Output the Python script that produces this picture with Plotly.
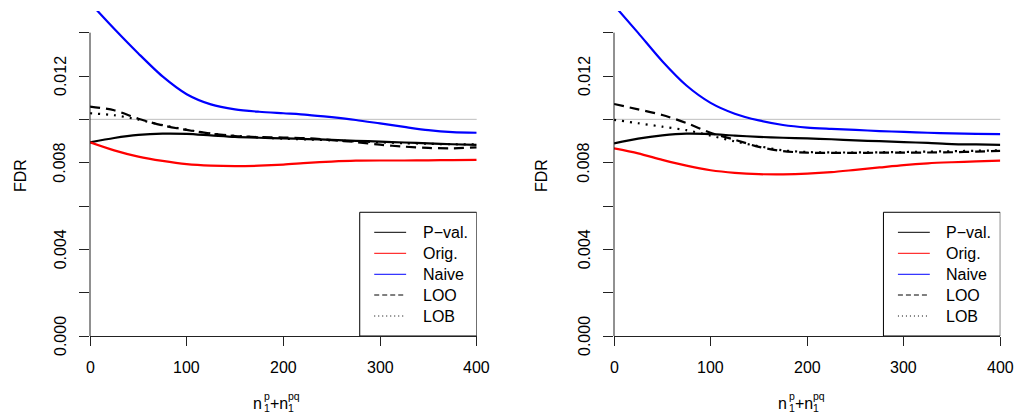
import plotly.graph_objects as go

# Sample sizes n1^p + n1^pq
n_total = [0, 25, 50, 75, 100, 125, 150, 175, 200, 225, 250, 275, 300, 325, 350, 375, 400]

# Left panel FDR estimates
pval_left = [0.00894, 0.00914, 0.00928, 0.00934, 0.00933, 0.00926, 0.00919, 0.00915, 0.00912,
             0.00909, 0.00905, 0.00901, 0.00897, 0.00893, 0.00889, 0.00885, 0.00882]
orig_left = [0.00894, 0.00857, 0.00828, 0.00808, 0.00793, 0.00786, 0.00784, 0.00786, 0.00791,
             0.00799, 0.00805, 0.00809, 0.00810, 0.00810, 0.00811, 0.00812, 0.00813]
naive_left = [0.01538, 0.01418, 0.01304, 0.01198, 0.01116, 0.01069, 0.01046, 0.01035, 0.01028,
              0.01021, 0.01010, 0.00997, 0.00981, 0.00965, 0.00950, 0.00941, 0.00938]
loo_left = [0.01059, 0.01042, 0.01003, 0.00972, 0.00951, 0.00934, 0.00923, 0.00918, 0.00916,
            0.00913, 0.00904, 0.00895, 0.00883, 0.00874, 0.00868, 0.00866, 0.00871]
lob_left = [0.01028, 0.01019, 0.00999, 0.00973, 0.00952, 0.00935, 0.00924, 0.00916, 0.00911,
            0.00907, 0.00903, 0.00899, 0.00894, 0.00890, 0.00887, 0.00885, 0.00885]

# Right panel FDR estimates
pval_right = [0.00889, 0.00911, 0.00926, 0.00934, 0.00932, 0.00925, 0.00919, 0.00915, 0.00912,
              0.00908, 0.00903, 0.00899, 0.00895, 0.00891, 0.00886, 0.00884, 0.00882]
orig_right = [0.00866, 0.00843, 0.00813, 0.00786, 0.00765, 0.00753, 0.00747, 0.00746, 0.00749,
              0.00756, 0.00767, 0.00778, 0.00789, 0.00797, 0.00802, 0.00806, 0.00809]
naive_right = [0.01527, 0.01399, 0.01268, 0.01156, 0.01076, 0.01026, 0.00995, 0.00974, 0.00962,
               0.00956, 0.00951, 0.00946, 0.00942, 0.00938, 0.00935, 0.00933, 0.00932]
loo_right = [0.01071, 0.01046, 0.01020, 0.00983, 0.00938, 0.00906, 0.00873, 0.00853, 0.00846,
             0.00845, 0.00845, 0.00846, 0.00846, 0.00847, 0.00848, 0.00851, 0.00854]
lob_right = [0.00998, 0.00982, 0.00966, 0.00950, 0.00925, 0.00898, 0.00876, 0.00857, 0.00849,
             0.00847, 0.00847, 0.00848, 0.00849, 0.00851, 0.00853, 0.00855, 0.00857]

nominal_level = 0.010
y_ticks = [0.000, 0.002, 0.004, 0.006, 0.008, 0.010, 0.012, 0.014]
y_labelled = [0.000, 0.004, 0.008, 0.012]
x_ticks = [0, 100, 200, 300, 400]

legend_labels = ["P\u2212val.", "Orig.", "Naive", "LOO", "LOB"]
legend_colors = ["black", "#FF0000", "#0000FF", "black", "black"]
legend_dashes = ["solid", "solid", "solid", "5px,3px", "1px,3px"]

W, H = 1016, 420
FONT = "Liberation Sans, Arial, Helvetica, sans-serif"
AXIS_COLOR = "#222222"

fig = go.Figure()

panels = [
    ("x", "y", [pval_left, orig_left, naive_left, loo_left, lob_left]),
    ("x2", "y2", [pval_right, orig_right, naive_right, loo_right, lob_right]),
]
curve_dashes = ["solid", "solid", "solid", "10px,6px", "2px,6px"]

for xa, ya, series in panels:
    for vals, col, dash in zip(series, legend_colors, curve_dashes):
        fig.add_trace(go.Scatter(
            x=n_total, y=vals, xaxis=xa, yaxis=ya, mode="lines",
            line=dict(color=col, width=2.2, dash=dash, shape="spline", smoothing=0.8),
            showlegend=False, hoverinfo="skip"))

# plot regions in pixels (left, right); shared vertical extent
px_left = [(90, 476.7), (614, 1000.3)]
py_top, py_bottom = 11, 336


def pxx(p):
    return p / W


def pxy(p):
    return 1 - p / H


def add_text(x, y, text, size=16, angle=0, xref="paper", yref="paper",
             xanchor="center", yanchor="middle"):
    fig.add_annotation(x=x, y=y, xref=xref, yref=yref, text=text, showarrow=False,
                       xanchor=xanchor, yanchor=yanchor, textangle=angle, borderpad=0,
                       font=dict(family=FONT, size=size, color="black"))


axis_common = dict(showgrid=False, zeroline=False, ticks="outside", tickcolor=AXIS_COLOR,
                   showticklabels=False)

for i, (xa, ya, _) in enumerate(panels):
    suffix = "" if i == 0 else "2"
    x0, x1 = px_left[i]
    fig.layout["xaxis" + suffix] = dict(
        axis_common, domain=[pxx(x0), pxx(x1)], range=[0, 400], anchor="y" + suffix,
        tickvals=x_ticks, ticklen=9, showline=True, linecolor=AXIS_COLOR, linewidth=1,
    )
    fig.layout["yaxis" + suffix] = dict(
        axis_common, domain=[pxy(py_bottom), pxy(py_top)], range=[0, 0.015],
        anchor="x" + suffix, tickvals=y_ticks, ticklen=10, showline=False,
    )
    # y axis line spanning the tick range only
    fig.add_shape(type="line", xref=xa + " domain", yref=ya, x0=0, x1=0,
                  y0=y_ticks[0], y1=y_ticks[-1], line=dict(color=AXIS_COLOR, width=1))
    # nominal level reference
    fig.add_shape(type="line", xref=xa + " domain", yref=ya, x0=0, x1=1,
                  y0=nominal_level, y1=nominal_level, line=dict(color="#BEBEBE", width=1),
                  layer="below")
    # tick labels
    off = x0 - 90
    for v in x_ticks:
        add_text(v, pxy(367), str(v), xref=xa)
    for v in y_labelled:
        add_text(pxx(60 + off), v, f"{v:.3f}", yref=ya, angle=-90)
    # legend box
    fig.add_shape(type="rect", xref=xa, yref=ya, x0=279, x1=400, y0=0, y1=0.00571,
                  line=dict(color="black", width=1), fillcolor="white")
    row_y = [0.004786, 0.003817, 0.002848, 0.001892, 0.000923]
    for lab, col, dash, yy in zip(legend_labels, legend_colors, legend_dashes, row_y):
        fig.add_shape(type="line", xref=xa, yref=ya, x0=294, x1=327, y0=yy, y1=yy,
                      line=dict(color=col, width=1, dash=dash))
        add_text(343, yy, lab, xref=xa, yref=ya, xanchor="left")

# y axis titles
add_text(pxx(20), pxy(176), "FDR", angle=-90)
add_text(pxx(541), pxy(176), "FDR", angle=-90)

# x axis titles: n_1^p + n_1^pq with stacked sub/superscripts
for off in (0, 524.6):
    add_text(pxx(263.3 + off), pxy(403.5), "n", xanchor="right")
    add_text(pxx(263.3 + off), pxy(408.1), "1", size=10.5, xanchor="left")
    add_text(pxx(263.3 + off), pxy(395.9), "p", size=10.5, xanchor="left")
    add_text(pxx(269.1 + off), pxy(403.5), "+n", xanchor="left")
    add_text(pxx(287.3 + off), pxy(408.1), "1", size=10.5, xanchor="left")
    add_text(pxx(287.3 + off), pxy(395.9), "pq", size=10.5, xanchor="left")

fig.update_layout(
    width=W, height=H, margin=dict(l=0, r=0, t=0, b=0),
    paper_bgcolor="white", plot_bgcolor="white", showlegend=False,
    font=dict(family=FONT, size=16, color="black"),
)

fig.write_html("out.html",
               post_script="document.body.style.margin='0';document.body.style.overflow='hidden';")
